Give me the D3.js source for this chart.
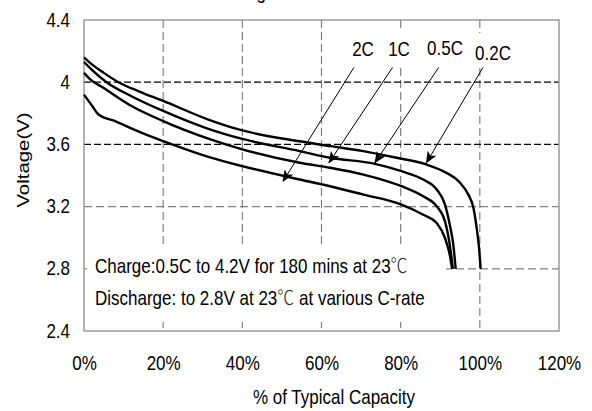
<!DOCTYPE html>
<html>
<head>
<meta charset="utf-8">
<script src="https://cdn.jsdelivr.net/npm/d3@7"></script>
<style>
  html, body { margin: 0; padding: 0; background: #fff; }
  svg { display: block; }
  text { font-family: "Liberation Sans", Arial, sans-serif; fill: #000; }
</style>
</head>
<body>
<svg id="chart" width="592" height="411"></svg>
<script>
// ---- data (x: % of typical capacity, y: voltage) ----
const xTicks = [0, 20, 40, 60, 80, 100, 120];
const yTicks = [2.4, 2.8, 3.2, 3.6, 4.0, 4.4];
const yTickLabels = ["2.4", "2.8", "3.2", "3.6", "4", "4.4"];

const cap02 = [0, 2, 5, 8.7, 14, 20, 31.4, 40, 54.5, 62.2, 70.6, 79, 86.5, 90.7, 95, 97.1, 98.4, 99.2, 99.8, 100.2];
const volt02 = [4.16, 4.115, 4.06, 4.0, 3.94, 3.88, 3.76, 3.69, 3.62, 3.589, 3.557, 3.514, 3.471, 3.428, 3.353, 3.277, 3.19, 3.063, 2.934, 2.80];

const cap05 = [0, 2, 5.7, 12, 20, 31.4, 40, 54.5, 62.2, 73.5, 80.2, 85.7, 89.1, 91.2, 92.4, 93.3, 93.9];
const volt05 = [4.13, 4.08, 4.0, 3.91, 3.815, 3.70, 3.635, 3.557, 3.514, 3.475, 3.428, 3.374, 3.31, 3.213, 3.084, 2.955, 2.80];

const cap1 = [0, 1.5, 5, 12, 20, 31.4, 40, 54.5, 62.2, 70.6, 80.2, 85.7, 89.1, 91.2, 92.4, 93.2];
const volt1 = [4.06, 4.02, 3.962, 3.847, 3.75, 3.637, 3.568, 3.482, 3.45, 3.406, 3.331, 3.266, 3.202, 3.105, 2.955, 2.80];

const cap2 = [0, 2, 3.6, 8, 14, 20, 31.4, 40, 54.5, 62.2, 70.6, 80.2, 85.7, 89.1, 91.2, 92.4, 93.0];
const volt2 = [3.92, 3.85, 3.794, 3.748, 3.68, 3.621, 3.52, 3.46, 3.374, 3.331, 3.277, 3.213, 3.148, 3.095, 2.998, 2.89, 2.80];

const seriesNames = ["0.2C", "0.5C", "1C", "2C"];
// annotation arrows in data units: label, label anchor (x%,V), arrow tip (x%,V)
const labelNames = ["2C", "1C", "0.5C", "0.2C"];
const labelFromX = [68.2, 77.95, 89.6, 100.8];
const labelFromV = [4.095, 4.095, 4.095, 4.095];
const labelTipX = [50.3, 61.9, 73.5, 86.5];
const labelTipV = [3.363, 3.482, 3.482, 3.482];

const noteLines = ["Charge:0.5C to 4.2V for 180 mins at 23", "Discharge: to 2.8V at 23"];
const noteTails = ["", " at various C-rate"];

// ---- layout ----
const svg = d3.select("#chart");
const L = 84, R = 559, T = 20, B = 331;
const x = d3.scaleLinear().domain([0, 120]).range([L, R]);
const y = d3.scaleLinear().domain([2.4, 4.4]).range([B, T]);
const SY = 1.2; // vertical stretch of text

function stext(g, px, py, str, anchor, size) {
  return g.append("text")
    .attr("transform", `translate(${px},${py}) scale(1,${SY})`)
    .attr("text-anchor", anchor || "start")
    .attr("font-size", size || 17)
    .text(str);
}

// title (cut off at top, as in the reference)
stext(svg, 199, -1.5, "Discharge Characteristics", "start", 17);

// gridlines
const grid = svg.append("g");
xTicks.filter(d => d > 0 && d < 120).forEach(d => {
  grid.append("line")
    .attr("x1", x(d)).attr("x2", x(d)).attr("y1", T).attr("y2", B)
    .attr("stroke", "#808080").attr("stroke-width", 1.2)
    .attr("stroke-dasharray", "8,4");
});
yTicks.filter(d => d > 2.4 && d < 4.4).forEach(d => {
  const dark = d >= 3.6;
  grid.append("line")
    .attr("x1", L).attr("x2", R).attr("y1", y(d)).attr("y2", y(d))
    .attr("stroke", dark ? "#000" : "#808080").attr("stroke-width", 1.2)
    .attr("stroke-dasharray", dark ? "7,3" : "8,4");
});

// frame
svg.append("rect").attr("x", L).attr("y", T).attr("width", R - L).attr("height", B - T)
  .attr("fill", "none").attr("stroke", "#8c8c8c").attr("stroke-width", 1.3);

// axis tick labels via d3 axes
const xAxis = svg.append("g").attr("transform", `translate(0,${B})`)
  .call(d3.axisBottom(x).tickValues(xTicks).tickSize(0).tickFormat(d => d + "%"));
xAxis.select(".domain").remove();
xAxis.selectAll("text").attr("font-size", 17).attr("font-family", "Liberation Sans, Arial, sans-serif")
  .attr("fill", "#000").attr("dy", null).attr("y", 0)
  .attr("transform", `translate(0,39) scale(1,${SY})`);

const yAxis = svg.append("g").attr("transform", `translate(${L},0)`)
  .call(d3.axisLeft(y).tickValues(yTicks).tickSize(0).tickFormat((d, i) => yTickLabels[i]));
yAxis.select(".domain").remove();
yAxis.selectAll("text").attr("font-size", 17).attr("font-family", "Liberation Sans, Arial, sans-serif")
  .attr("fill", "#000").attr("x", 0).attr("dy", null).attr("y", 0)
  .attr("transform", `translate(-14,6) scale(1,${SY})`);

// axis titles
stext(svg, 334, 404, "% of Typical Capacity", "middle", 17);
svg.append("text")
  .attr("transform", `translate(29,160) scale(1,${SY}) rotate(-90)`)
  .attr("text-anchor", "middle").attr("font-size", 17).text("Voltage(V)");

// curves
const line = d3.line().x(d => x(d[0])).y(d => y(d[1])).curve(d3.curveMonotoneX);
const caps = [cap02, cap05, cap1, cap2];
const volts = [volt02, volt05, volt1, volt2];
seriesNames.forEach((n, i) => {
  const pts = caps[i].map((c, j) => [c, volts[i][j]]);
  svg.append("path").datum(pts).attr("d", line)
    .attr("fill", "none").attr("stroke", "#000").attr("stroke-width", 2.4)
    .attr("stroke-linejoin", "round");
});

// note box (white background covers grid)
svg.append("rect").attr("x", L + 3).attr("y", 247).attr("width", 446 - L - 3).attr("height", 75)
  .attr("fill", "#fff");
noteLines.forEach((t, i) => {
  const tx = svg.append("text")
    .attr("transform", `translate(95,${273 + i * 32}) scale(1,${SY})`)
    .attr("font-size", 17);
  tx.append("tspan").text(t);
  tx.append("tspan").attr("font-family", "Noto Sans CJK SC").attr("font-weight", 300)
    .attr("fill", "#333").text("℃");
  if (noteTails[i]) tx.append("tspan").text(noteTails[i]);
});

// labels with white backgrounds and arrows
const defs = svg.append("defs");
defs.append("marker").attr("id", "arr").attr("viewBox", "0 0 12 10")
  .attr("refX", 11).attr("refY", 5).attr("markerWidth", 12).attr("markerHeight", 10)
  .attr("markerUnits", "userSpaceOnUse").attr("orient", "auto")
  .append("path").attr("d", "M0,0 L12,5 L0,10 L3,5 Z").attr("fill", "#000");

svg.append("rect").attr("x", 340).attr("y", 29).attr("width", 80).attr("height", 38).attr("fill", "#fff");
svg.append("rect").attr("x", 423).attr("y", 31).attr("width", 45).attr("height", 36).attr("fill", "#fff");
svg.append("rect").attr("x", 472).attr("y", 33).attr("width", 46).attr("height", 34).attr("fill", "#fff");

const labelBase = [56, 56, 55, 60];
const labelX = [363, 399, 445, 493];
labelNames.forEach((n, i) => {
  stext(svg, labelX[i], labelBase[i], n, "middle", 17);
  svg.append("line")
    .attr("x1", x(labelFromX[i])).attr("y1", y(labelFromV[i]))
    .attr("x2", x(labelTipX[i])).attr("y2", y(labelTipV[i]))
    .attr("stroke", "#000").attr("stroke-width", 1)
    .attr("marker-end", "url(#arr)");
});
</script>
</body>
</html>
